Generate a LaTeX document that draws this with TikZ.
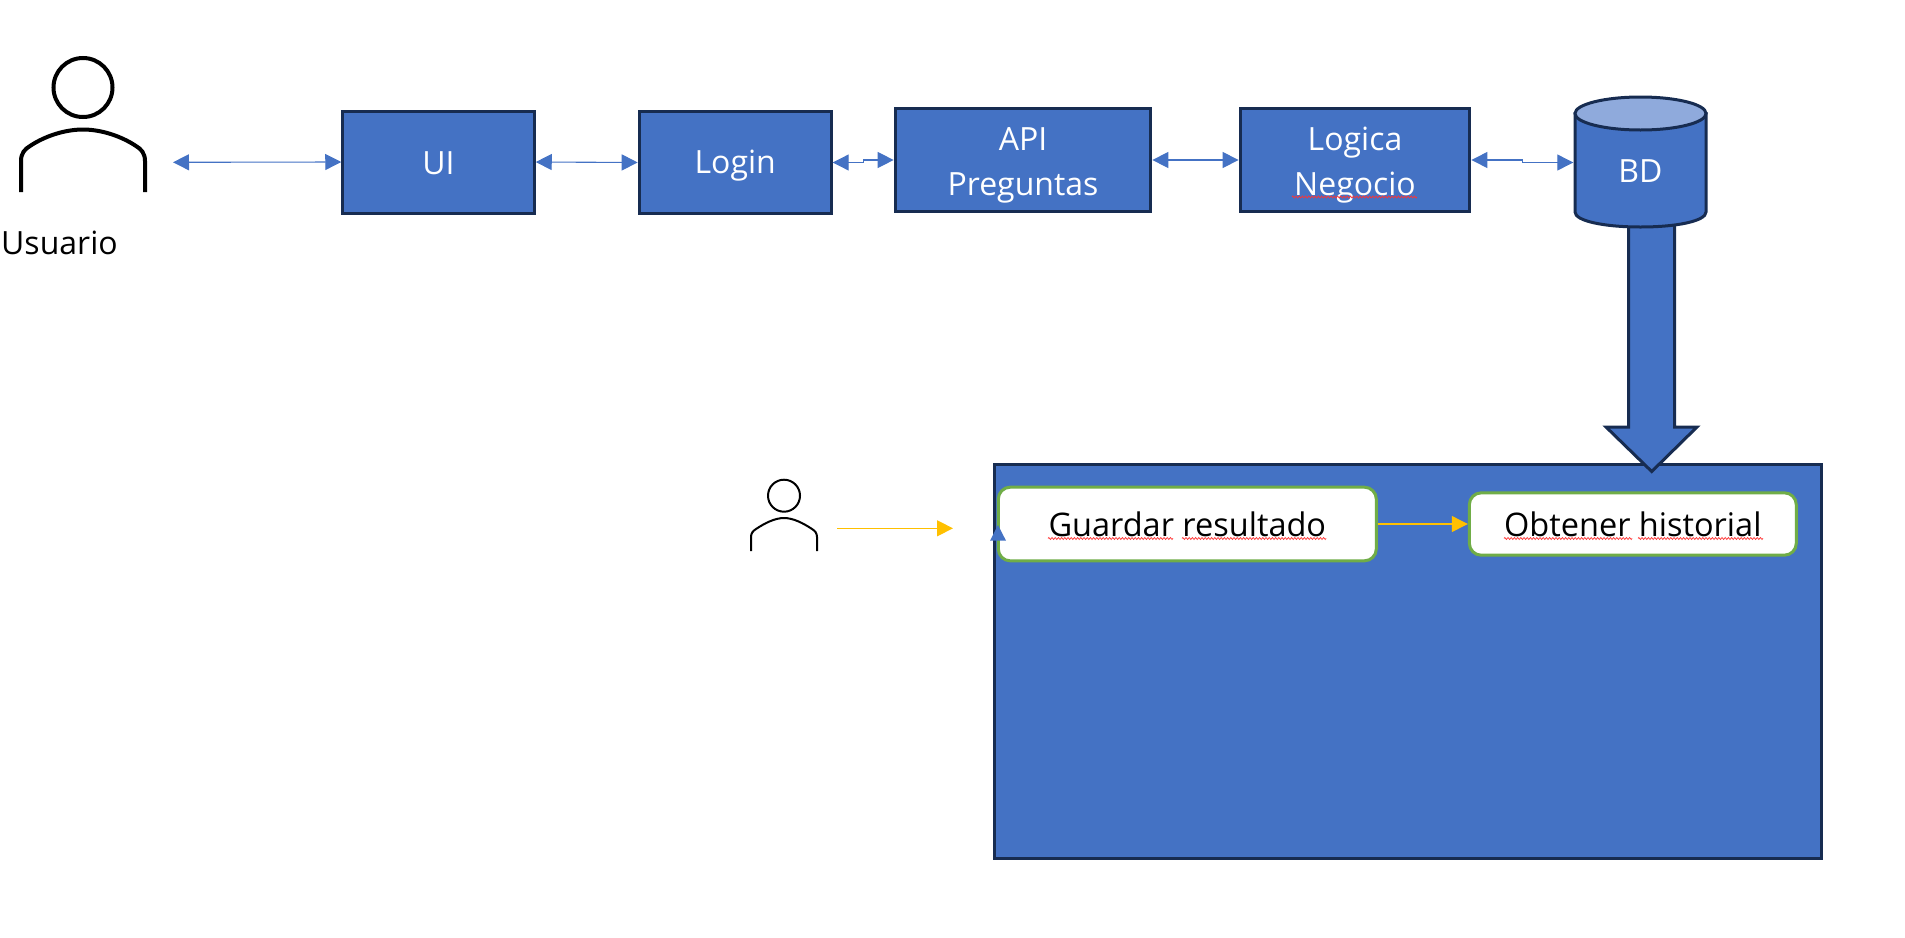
\documentclass[tikz,border=0pt]{standalone}
\usepackage{fontspec}
\setmainfont{Open Sans}
\usetikzlibrary{arrows.meta,decorations.pathmorphing}
\definecolor{boxblue}{HTML}{4472C4}
\definecolor{navy}{HTML}{172C51}
\definecolor{cyltop}{HTML}{8FAADC}
\definecolor{leaf}{HTML}{70AD47}
\definecolor{amber}{HTML}{FFC000}
\tikzset{
  bluebox/.style={draw=navy,fill=boxblue,line width=3pt,inner sep=0pt,text=white},
  boxtext/.style={text=white,align=center,font=\fontsize{32}{45}\selectfont},
  softbox/.style={draw=leaf,fill=white,line width=3pt,rounded corners=12pt,inner sep=0pt,text=black,font=\fontsize{32.5}{40}\selectfont},
  link/.style={draw=boxblue,line width=1.1pt,{Triangle[length=16pt,width=16pt]}-{Triangle[length=16pt,width=16pt]}},
  yellowlink/.style={draw=amber,line width=1.1pt,-{Triangle[length=16pt,width=16pt]}},
  squiggle/.style={draw=red!80,line width=0.7pt,decorate,decoration={zigzag,segment length=3.2pt,amplitude=1pt}},
  figure/.style={draw=black,fill=none}
}
\begin{document}
\begin{tikzpicture}[x=1pt,y=-1pt]
\useasboundingbox (0,0) rectangle (1905,937);
% large user
\draw[figure,line width=4pt] (83,87.5) circle[radius=29.5pt];
\draw[figure,line width=4pt] (21,192) -- (21,161) .. controls (21,153) and (25,149) .. (30,146) .. controls (45,136) and (65,129.5) .. (83,129.5) .. controls (101,129.5) and (121,136) .. (136,146) .. controls (141,149) and (145,153) .. (145,161) -- (145,192);
\node[anchor=base west,inner sep=0pt,font=\fontsize{32}{38}\selectfont] (usuario) at (1,254) {Usuario};
\coordinate (userport) at (173,162.3);
% boxes
\node[bluebox,minimum width=191.5pt,minimum height=102pt,label={[boxtext,yshift=-1.5pt]center:UI}] (ui) at (438.5,162) {};
\node[bluebox,minimum width=192pt,minimum height=102pt,label={[boxtext,yshift=-3pt]center:Login}] (login) at (735.2,162.5) {};
\node[bluebox,minimum width=255.7pt,minimum height=103.4pt,label={[boxtext,yshift=-5pt]center:API\\Preguntas}] (api) at (1023,160) {};
\node[bluebox,minimum width=229.8pt,minimum height=103.4pt,label={[boxtext,yshift=-5pt]center:Logica\\Negocio}] (logica) at (1355,160) {};
% big panel
\node[bluebox,minimum width=827pt,minimum height=394pt] (panel) at (1407.5,661.3) {};
% thick arrow
\draw[navy,fill=boxblue,line width=3pt,line join=miter] (1628.6,224) -- (1628.6,427) -- (1606,427) -- (1651.7,471.5) -- (1697,427) -- (1674.5,427) -- (1674.5,224) -- cycle;
% cylinder
\node[minimum width=134pt,minimum height=134pt,inner sep=0pt] (bd) at (1640.5,162.5) {};
\draw[navy,fill=boxblue,line width=3pt] (1575,113.5) -- (1575,212) .. controls (1575,221) and (1604,227) .. (1640.5,227) .. controls (1677,227) and (1706,221) .. (1706,212) -- (1706,113.5) -- cycle;
\draw[navy,fill=cyltop,line width=3pt] (1640.5,113.5) ellipse[x radius=65.5pt,y radius=16.5pt];
\node[text=white,inner sep=0pt,font=\fontsize{32}{40}\selectfont] (bdlabel) at (1640.5,171) {BD};
% connectors top row
\draw[link] (userport) -- (ui.west);
\draw[link] (ui.east) -- (login.west);
\draw[link] (login.east) -- ++(31,0) |- (api.west);
\draw[link] (api.east) -- (logica.west);
\draw[link] (logica.east) -- ++(51,0) |- (bd.west);
% small user
\draw[figure,line width=2pt] (784,495.7) circle[radius=16pt];
\draw[figure,line width=2pt] (751,551) -- (751,537) .. controls (751,533) and (753,531) .. (756,529) .. controls (765,523) and (775,518) .. (784,518) .. controls (793,518) and (803,523) .. (812,529) .. controls (815,531) and (817,533) .. (817,537) -- (817,551);
\coordinate (smallport) at (837,528.3);
\coordinate (smalltip) at (953,528.3);
\draw[yellowlink] (smallport) -- (smalltip);
% inner nodes
\node[softbox,minimum width=378pt,minimum height=73.7pt] (guardar) at (1187.3,524) {Guardar resultado};
\node[softbox,minimum width=327pt,minimum height=62.4pt] (obtener) at (1632.8,524) {Obtener historial};
\draw[yellowlink] (guardar.east) -- (obtener.west);
% blue triangle on the Guardar edge
\fill[boxblue] (998,525) -- (1006,540.7) -- (990,540.7) -- cycle;
% spell-check marks
\coordinate (sqa) at (1292,197); \coordinate (sqb) at (1417,197);
\draw[squiggle] (sqa) -- (sqb);
\coordinate (sqc) at (1048,538.5); \coordinate (sqd) at (1173,538.5);
\draw[squiggle] (sqc) -- (sqd);
\coordinate (sqe) at (1182,538.5); \coordinate (sqf) at (1326,538.5);
\draw[squiggle] (sqe) -- (sqf);
\coordinate (sqg) at (1504,538.5); \coordinate (sqh) at (1632,538.5);
\draw[squiggle] (sqg) -- (sqh);
\coordinate (sqi) at (1638,538.5); \coordinate (sqj) at (1763,538.5);
\draw[squiggle] (sqi) -- (sqj);
\end{tikzpicture}
\end{document}
